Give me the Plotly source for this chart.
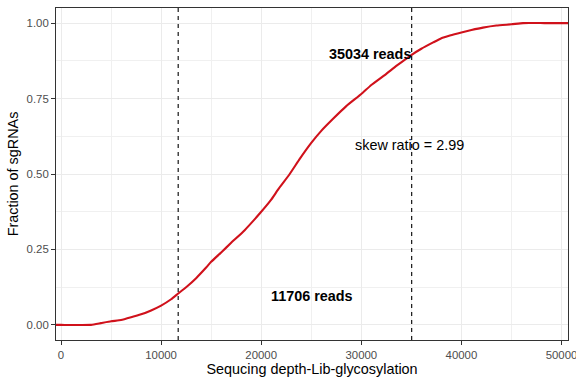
import plotly.graph_objects as go

# Cumulative fraction of sgRNAs vs sequencing depth
reads = [0, 3000, 4000, 5000, 6000, 7000, 8000, 9000, 10000, 11000, 11706,
         12500, 13500, 14500, 15000, 16000, 17000, 18350, 19850, 21000, 21700,
         22850, 23850, 25000, 26000, 27180, 28500, 30000, 31000, 32500, 33500,
         35034, 36000, 37180, 38000, 38850, 40000, 41000, 42150, 43500, 45000,
         46150, 48300]
fraction = [0.0, 0.0, 0.006, 0.012, 0.016, 0.025, 0.035, 0.048, 0.064, 0.085, 0.104,
            0.125, 0.155, 0.19, 0.209, 0.24, 0.272, 0.314, 0.369, 0.415, 0.449,
            0.50, 0.55, 0.603, 0.643, 0.683, 0.725, 0.765, 0.795, 0.832, 0.858,
            0.895, 0.915, 0.936, 0.95, 0.959, 0.969, 0.977, 0.985, 0.992, 0.996,
            1.0, 1.0]

low_cut = 11706
high_cut = 35034
skew_ratio = 2.99

x_range = [-500, 50650]
y_range = [-0.05, 1.05]
x_ticks = [0, 10000, 20000, 30000, 40000, 50000]
y_ticks = [0.0, 0.25, 0.5, 0.75, 1.0]
y_tick_text = ["0.00", "0.25", "0.50", "0.75", "1.00"]

FONT = "Liberation Sans, Arial, sans-serif"

# ECDF padded to the panel edges (like stat_ecdf pad=TRUE)
xs = [x_range[0]] + reads + [x_range[1]]
ys = [fraction[0]] + fraction + [fraction[-1]]

fig = go.Figure()
fig.add_trace(go.Scatter(x=xs, y=ys, mode="lines",
                         line=dict(color="#d0111b", width=2.1, shape="spline", smoothing=0.4),
                         hoverinfo="skip", showlegend=False))

for xc in (low_cut, high_cut):
    fig.add_shape(type="line", x0=xc, x1=xc, y0=0, y1=1, xref="x", yref="y domain",
                  line=dict(color="black", width=1.1, dash="4px,4px"))

ann_font = dict(family=FONT, size=14.4, color="black")
fig.add_annotation(x=25100, y=0.097, text="<b>%d reads</b>" % low_cut, showarrow=False,
                   font=ann_font, xanchor="center", yanchor="middle")
fig.add_annotation(x=30850, y=0.898, text="<b>%d reads</b>" % high_cut, showarrow=False,
                   font=ann_font, xanchor="center", yanchor="middle")
fig.add_annotation(x=34850, y=0.595, text="skew ratio = %.2f" % skew_ratio, showarrow=False,
                   font=ann_font, xanchor="center", yanchor="middle")

axis_common = dict(showline=True, linecolor="#333333", linewidth=1, mirror=True,
                   showgrid=True, gridcolor="#ebebeb", gridwidth=1, zeroline=False,
                   ticks="outside", ticklen=4, tickwidth=1, tickcolor="#333333",
                   ticklabeloverflow="allow",
                   tickfont=dict(family=FONT, size=11.4, color="#4d4d4d"))

fig.update_xaxes(range=x_range, tickvals=x_ticks, ticktext=[str(v) for v in x_ticks],
                 minor=dict(dtick=5000, tick0=5000, showgrid=True, gridcolor="#f0f0f0",
                            gridwidth=0.6, ticks=""),
                 title=dict(text="Sequcing depth-Lib-glycosylation", standoff=4,
                            font=dict(family=FONT, size=14.4, color="black")),
                 **axis_common)
fig.update_yaxes(range=y_range, tickvals=y_ticks, ticktext=y_tick_text,
                 minor=dict(dtick=0.125, tick0=0.125, showgrid=True, gridcolor="#f0f0f0",
                            gridwidth=0.6, ticks=""),
                 title=dict(text="Fraction of sgRNAs", standoff=4,
                            font=dict(family=FONT, size=14.4, color="black")),
                 **axis_common)

fig.update_layout(width=576, height=384, plot_bgcolor="white", paper_bgcolor="white",
                  margin=dict(l=56, r=8, t=8, b=44, autoexpand=False),
                  font=dict(family=FONT))

fig.write_html("out.html", config={"displayModeBar": False},
               post_script="document.body.style.margin='0';document.body.style.overflow='hidden';")
